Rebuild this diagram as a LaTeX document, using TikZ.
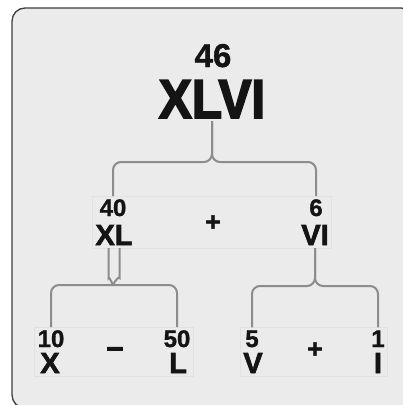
\documentclass[tikz,border=0pt]{standalone}
\usepackage{fontspec}
\usepackage{xcolor}
\usetikzlibrary{fit}

\newfontfamily\valfont{Liberation Sans}[FakeBold=1.2]
\newfontfamily\romfont{Liberation Sans}[FakeBold=2.2]
\newfontfamily\widefont{Liberation Sans}[FakeStretch=0.9, FakeBold=3]
\definecolor{panel}{HTML}{EBEBEB}
\definecolor{rim}{HTML}{3C3C3C}
\definecolor{wire}{HTML}{8C8C8C}
\definecolor{ink}{HTML}{141414}
\definecolor{faint}{HTML}{E1E1E1}

\begin{document}
\begin{tikzpicture}[x=1pt, y=1pt,
	numtxt/.style={anchor=base, inner sep=0pt, outer sep=3pt, text=ink, font=\valfont\bfseries\fontsize{24}{24}\selectfont},
	romtxt/.style={anchor=base, inner sep=0pt, outer sep=3pt, text=ink, font=\romfont\bfseries\fontsize{29}{29}\selectfont},
	optxt/.style={inner sep=1pt, text=ink, font=\romfont\bfseries\fontsize{26}{26}\selectfont},
	link/.style={draw=wire, line width=2pt, rounded corners=8pt},
	rowbox/.style={draw=faint, line width=0.6pt, inner sep=0pt}]

			\useasboundingbox (0,-405) rectangle (403,0);
			% Panel
			\draw[fill=panel, draw=rim, line width=1.3pt, rounded corners=13pt] (12,-8) rectangle (414,-408);

			% Whole number on top
			\node[numtxt, font=\valfont\bfseries\fontsize{33}{33}\selectfont] (n46) at (213,-67) {46};
			\node[romtxt, font=\widefont\bfseries\fontsize{55}{55}\selectfont] (r46) at (212,-118) {XLVI};

			% Middle row
			\node[numtxt] (n40) at (113,-216) {40};
			\node[romtxt] (r40) at (114,-245) {XL};
			\node[optxt] (p40) at (213,-223) {+};
			\node[numtxt] (n6) at (316,-216) {6};
			\node[romtxt] (r6) at (315,-245) {VI};

			% Bottom rows
			\node[numtxt] (n10) at (51,-347) {10};
			\node[romtxt] (r10) at (50,-373) {X};
			\node[optxt, font=\romfont\bfseries\fontsize{30}{30}\selectfont] (m10) at (115,-353) {−};
			\node[numtxt] (n50) at (177,-347) {50};
			\node[romtxt] (r50) at (178,-373) {L};
			\node[numtxt] (n5) at (252,-347) {5};
			\node[romtxt] (r5) at (253,-373) {V};
			\node[optxt] (p5) at (315,-350) {+};
			\node[numtxt] (n1) at (378,-347) {1};
			\node[romtxt] (r1) at (378,-373) {I};

			% Faint row frames
			\node[rowbox, fit=(n40)(r40)(n6)(r6)] (row40) {};
			\node[rowbox, fit=(n10)(r10)(n50)(r50)] (row10) {};
			\node[rowbox, fit=(n5)(r5)(n1)(r1)] (row5) {};

			% Braces
			\coordinate (j46) at (r46.south |- 0,-162);
			\draw[link] (n40.north) |- (j46) -- (r46.south);
			\draw[link] (n6.north) |- (j46) -- (r46.south);

			\coordinate (j40) at (113,-285);
			\draw[link] (n10.north) |- (j40);
			\draw[link] (n50.north) |- (j40);
			\draw[link] ([xshift=-5.5pt]r40.south) -- ++(0,-22) to[out=-90, in=115] (j40);
			\draw[link] ([xshift=5.5pt]r40.south) -- ++(0,-22) to[out=-90, in=65] (j40);

			\coordinate (j6) at (r6.south |- 0,-286);
			\draw[link] (n5.north) |- (j6) -- (r6.south);
			\draw[link] (n1.north) |- (j6) -- (r6.south);
\end{tikzpicture}
\end{document}
